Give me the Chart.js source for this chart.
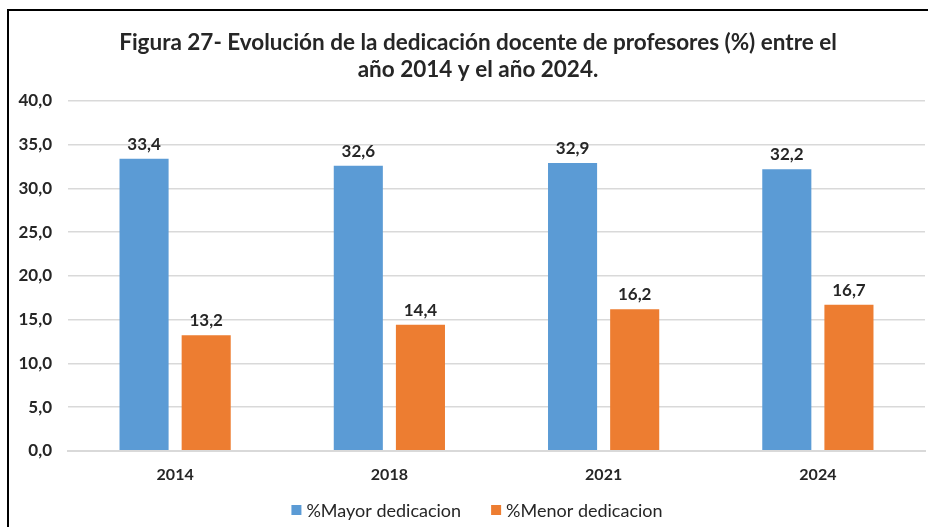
<!DOCTYPE html>
<html>
<head>
<meta charset="utf-8">
<script src="https://cdn.jsdelivr.net/npm/chart.js@4"></script>
<style>
  html, body { margin: 0; padding: 0; background: #fff; }
  #wrap { position: relative; width: 928px; height: 527px; }
  #frame { position: absolute; left: 7px; top: 9px; right: -5px; bottom: -5px; border-left: 2px solid #000; border-top: 2px solid #000; }
  canvas { position: absolute; left: 0; top: 0; }
</style>
</head>
<body>
<div id="wrap">
  <div id="frame"></div>
  <canvas id="chart" width="928" height="527"></canvas>
</div>
<script>
// data
const years = ['2014', '2018', '2021', '2024'];
const mayorDedicacion = [33.4, 32.6, 32.9, 32.2];
const menorDedicacion = [13.2, 14.4, 16.2, 16.7];
const titleLines = [
  'Figura 27- Evolución de la dedicación docente de profesores (%) entre el',
  'año 2014 y el año 2024.'
];

const fmt = v => v.toFixed(1).replace('.', ',');
const FONT = 'Lato, "Open Sans", sans-serif';
const TEXT = '#262626';

// value above each bar
const barLabels = {
  id: 'barLabels',
  afterDatasetsDraw(chart) {
    const ctx = chart.ctx;
    ctx.save();
    ctx.font = 'bold 17px ' + FONT;
    ctx.fillStyle = TEXT;
    ctx.textAlign = 'center';
    ctx.textBaseline = 'alphabetic';
    chart.data.datasets.forEach((ds, i) => {
      chart.getDatasetMeta(i).data.forEach((bar, j) => {
        ctx.fillText(fmt(ds.data[j]), bar.x, bar.y - 9);
      });
    });
    ctx.restore();
  }
};

// title and legend drawn by hand so they sit where the original has them
const titleAndLegend = {
  id: 'titleAndLegend',
  afterDraw(chart) {
    const ctx = chart.ctx;
    ctx.save();
    ctx.fillStyle = TEXT;
    ctx.textAlign = 'center';
    ctx.textBaseline = 'middle';
    ctx.font = 'bold 22.5px ' + FONT;
    ctx.fillText(titleLines[0], 478, 43);
    ctx.fillText(titleLines[1], 478, 70);

    ctx.font = '18px ' + FONT;
    ctx.textAlign = 'left';
    const items = chart.data.datasets.map(ds => ({ text: ds.label, color: ds.backgroundColor, w: ctx.measureText(ds.label).width }));
    const box = 10, gap = 5, between = 30;
    const total = items.reduce((s, it) => s + box + gap + it.w, 0) + between * (items.length - 1);
    let x = 477 - total / 2;
    items.forEach(it => {
      ctx.fillStyle = it.color;
      ctx.fillRect(x, 505, box, box);
      ctx.fillStyle = TEXT;
      ctx.fillText(it.text, x + box + gap, 511);
      x += box + gap + it.w + between;
    });
    ctx.restore();
  }
};

new Chart(document.getElementById('chart'), {
  type: 'bar',
  data: {
    labels: years,
    datasets: [
      {
        label: '%Mayor dedicacion',
        data: mayorDedicacion,
        backgroundColor: '#5b9bd5',
        categoryPercentage: 0.58,
        barPercentage: 0.79
      },
      {
        label: '%Menor dedicacion',
        data: menorDedicacion,
        backgroundColor: '#ed7d31',
        categoryPercentage: 0.58,
        barPercentage: 0.79
      }
    ]
  },
  options: {
    responsive: false,
    animation: false,
    layout: { padding: { left: 10, right: 3, top: 101, bottom: 37 } },
    plugins: {
      title: { display: false },
      legend: { display: false },
      tooltip: { enabled: false }
    },
    scales: {
      x: {
        grid: { display: false },
        border: { color: '#d9d9d9', width: 2 },
        ticks: { color: TEXT, font: { family: FONT, size: 16, weight: 'bold' }, padding: 6 }
      },
      y: {
        min: 0,
        max: 40,
        afterFit(scale) { scale.width = 58; },
        border: { display: false },
        grid: { color: '#d9d9d9', lineWidth: 1.5, drawTicks: false },
        ticks: {
          stepSize: 5,
          padding: 16,
          color: TEXT,
          font: { family: FONT, size: 17, weight: 'bold' },
          callback: v => fmt(v)
        }
      }
    }
  },
  plugins: [barLabels, titleAndLegend]
});
</script>
</body>
</html>
